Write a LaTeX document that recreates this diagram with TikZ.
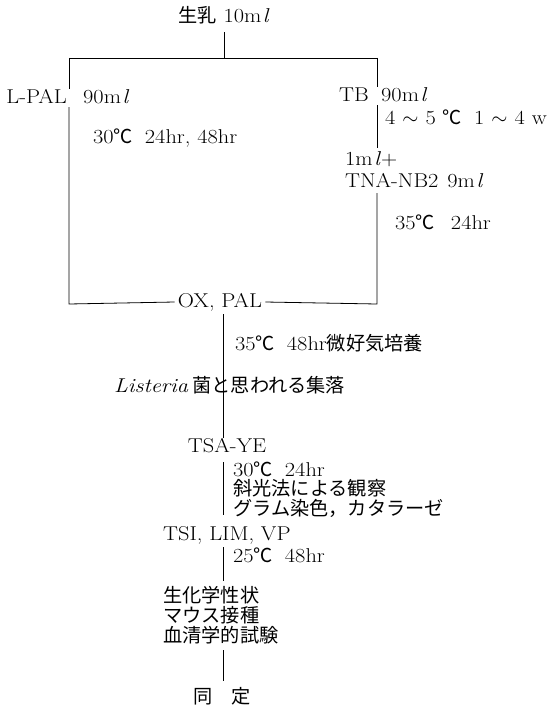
\documentclass[tikz,border=0pt]{standalone}
\usepackage{fontspec}
\setmainfont{Latin Modern Roman}[FakeStretch=1.12]
\newfontfamily\cjk{Noto Sans CJK JP}[Scale=0.96]
\newcommand{\J}[1]{{\cjk #1}}
\newcommand{\dg}{{\cjk ℃}}
\newcommand{\ml}{m\kern1.5pt\textit{l}}
\begin{document}
\begin{tikzpicture}[x=1pt,y=-1pt,
  lbl/.style={inner sep=0pt, font=\fontsize{20}{22}\selectfont, text height=14pt, text depth=4pt},
  ln/.style={line width=0.8pt}]
\useasboundingbox[fill=white] (0,0) rectangle (552,709);
% top
\node[lbl] (milk) at (224,18) {\J{生乳}\ 10\ml};
\node[lbl,anchor=east] (lpal) at (67,98) {L-PAL};
\node[lbl,anchor=west] (lpalv) at (83,98) {90\ml};
\node[lbl,anchor=west] (c30) at (93,138) {30\dg\hspace{12pt}24hr, 48hr};
\node[lbl,anchor=east] (tb) at (369,96) {TB};
\node[lbl,anchor=west] (tbv) at (381,96) {90\ml};
\node[lbl,anchor=west] (c45) at (385,119) {4\hspace{7pt}$\sim$\hspace{7pt}5\hspace{7pt}\dg\hspace{12pt}1\hspace{7pt}$\sim$\hspace{7pt}4\hspace{7pt}w};
\node[lbl,anchor=west] (one) at (345,160) {1\ml+};
\node[lbl,anchor=west] (tna) at (345,182) {TNA-NB2\hspace{9pt}9\ml};
\node[lbl,anchor=west] (c35) at (395,224) {35\dg\hspace{16pt}24hr};
\node[lbl,inner xsep=3pt] (ox) at (220,302) {OX, PAL};
% column
\node[lbl,anchor=west] (c48) at (235,345) {35\dg\hspace{12pt}48hr\J{微好気培養}};
\node[lbl,anchor=west] (lis) at (114,387) {\textit{Listeria}\hspace{4pt}\J{菌と思われる集落}};
\node[lbl] (tsa) at (227,447) {TSA-YE};
\node[lbl,anchor=west] (l1) at (233,471) {30\dg\hspace{12pt}24hr};
\node[lbl,anchor=west] (l2) at (233,490) {\J{斜光法による観察}};
\node[lbl,anchor=west] (l3) at (233,510) {\J{グラム染色，カタラーゼ}};
\node[lbl,anchor=west] (tsi) at (163,535) {TSI, LIM, VP};
\node[lbl,anchor=west] (c25) at (233,557) {25\dg\hspace{12pt}48hr};
\node[lbl,anchor=west] (bio1) at (163,597) {\J{生化学性状}};
\node[lbl,anchor=west] (bio2) at (163,617) {\J{マウス接種}};
\node[lbl,anchor=west] (bio3) at (163,637) {\J{血清学的試験}};
\node[lbl,anchor=west] (id) at (193,698) {\J{同　定}};
% coordinates
\coordinate (tm) at (224,58);
\coordinate (tl) at (69,58);
\coordinate (tr) at (377,58);
\coordinate (bl) at (69,304);
\coordinate (br) at (377,304);
\coordinate (cx) at (223,320);
% connectors
\draw[ln,shorten <=5pt] (milk.south) -- (tm);
\draw[ln] (tl) -- (tr);
\draw[ln] (tl) -- (tl |- lpal.north);
\draw[ln] (tl |- lpal.south) -- (bl) -- (ox.west);
\draw[ln] (tr) -- (tr |- tb.north);
\draw[ln,shorten >=3pt] (tr |- tb.south) -- (tr |- one.north);
\draw[ln,shorten <=2pt] (tr |- tna.south) -- (br) -- (ox.east);
\draw[ln,shorten <=3pt] (cx |- ox.south) -- (cx |- tsa.north);
\draw[ln,shorten <=6pt,shorten >=4pt] (cx |- tsa.south) -- (cx |- l3.south);
\draw[ln,shorten <=3pt,shorten >=7pt] (cx |- tsi.south) -- (cx |- bio1.north);
\draw[ln,shorten <=4pt,shorten >=8pt] (cx |- bio3.south) -- (cx |- id.north);
\end{tikzpicture}
\end{document}
